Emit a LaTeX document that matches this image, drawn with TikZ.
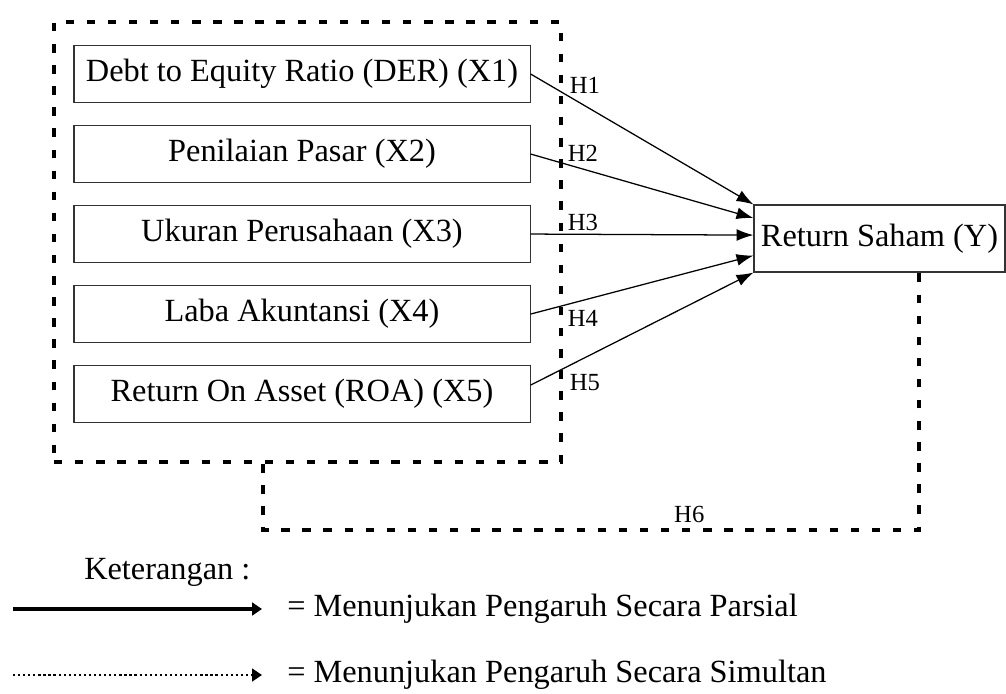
\documentclass[tikz,border=0pt]{standalone}
\usepackage{fontspec}
\setmainfont{Liberation Serif}
\usepackage{tikz}
\usetikzlibrary{positioning}
\usetikzlibrary{calc,arrows.meta}
\tikzstyle{block} = [rectangle, draw=black!80, line width=0.8pt, fill=white,
minimum width=11.4cm, minimum height=1.425cm, font=\fontsize{23}{27}\selectfont ]
\tikzstyle{line} = [draw, line width=0.9pt, -{Latex[length=12pt,width=8.5pt]}]
\tikzstyle{group} = [draw, line width=3pt, dash pattern=on 6pt off 9pt,
minimum width=12.675cm, minimum height=11cm]
\tikzstyle{simul} = [draw, line width=3pt, dash pattern=on 6pt off 9pt]
\tikzstyle{hyp} = [font=\fontsize{17.5}{20}\selectfont, inner sep=1pt]
\tikzstyle{legend} = [font=\fontsize{23}{27}\selectfont, anchor=west, inner sep=0pt]

\begin{document}
\begin{tikzpicture}[x=0.025cm, y=-0.025cm, node distance = 2cm]
    \useasboundingbox (0,0) rectangle (1006,693);
    % nodes
    \node (grp) [group] at (307.5,242) {};
    \node (x1) [block] at (302,74) {Debt to Equity Ratio (DER) (X1)};
    \node [block, below of=x1] (x2) {Penilaian Pasar (X2)};
    \node [block, below of=x2] (x3) {Ukuran Perusahaan (X3)};
    \node [block, below of=x3] (x4) {Laba Akuntansi (X4)};
    \node [block, below of=x4] (x5) {Return On Asset (ROA) (X5)};
    \node (Y) [block, minimum width=6.275cm, minimum height=1.675cm] at (879.5,238.5) {Return Saham (Y)};

    \node (h1) [hyp] at (585,85) {H1};
    \node (h2) [hyp] at (583,153) {H2};
    \node (h3) [hyp] at (583,222) {H3};
    \node (h4) [hyp] at (583,318) {H4};
    \node (h5) [hyp] at (585,383) {H5};

    % edges
         \path [line] (x1.east) -- (Y.north west);
         \path [line] (x2.east) -- ($(Y.north west)!0.2!(Y.south west)$);
         \path [line] (x3.east) -- ($(Y.north west)!0.45!(Y.south west)$);
         \path [line] (x4.east) -- ($(Y.north west)!0.75!(Y.south west)$);
         \path [line] ([yshift=0.225cm]x5.east) -- (Y.south west);
         \path [simul] ([xshift=5.275cm]grp.south west) -- ++(0,66)
               -- node [hyp, above=3pt, pos=0.65] (h6) {H6} ++(656,0) coordinate (h6b)
               -- (Y.south -| h6b);

    % legend
    \node (ket) [legend] at (84,572) {Keterangan :};
    \node (parsial) [legend] at (287,609) {= Menunjukan Pengaruh Secara Parsial};
    \node (simultan) [legend] at (287,675) {= Menunjukan Pengaruh Secara Simultan};
    \coordinate (ls1) at (13,609);
    \coordinate (le1) at (262,609);
    \coordinate (ls2) at (13,675);
    \coordinate (le2) at (262,675);
         \draw [line width=2.8pt, -{Triangle[length=7pt,width=9pt]}] (ls1) -- (le1);
         \draw [line width=1.6pt, dotted, -{Triangle[length=7pt,width=9pt]}] (ls2) -- (le2);
\end{tikzpicture}
\end{document}
